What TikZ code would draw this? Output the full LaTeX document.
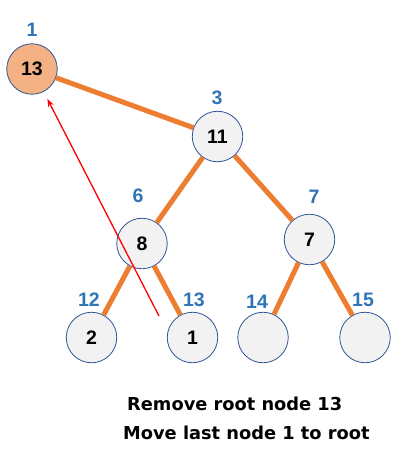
\documentclass[tikz,border=0pt]{standalone}
\usepackage{fontspec}
\setmainfont{Liberation Sans}
\newfontfamily\captionfont{DejaVu Sans}
\usetikzlibrary{arrows.meta, positioning}

\definecolor{edgeorange}{RGB}{237,125,49}
\definecolor{rootfill}{RGB}{244,177,131}
\definecolor{nodegray}{RGB}{242,242,242}
\definecolor{nodeborder}{RGB}{47,85,151}
\definecolor{idxblue}{RGB}{46,117,182}

\begin{document}
\begin{tikzpicture}[x=1pt, y=-1pt, >=Stealth, font=\bfseries\fontsize{19.5}{22}\selectfont,
    heapnode/.style={circle, draw=nodeborder, line width=0.8pt, fill=nodegray, minimum size=50.5pt, inner sep=0pt},
    idx/.style={text=idxblue, inner sep=0pt},
    heapedge/.style={draw=edgeorange, line width=5pt}]
        \useasboundingbox (0,0) rectangle (406,463);

        % Nodes
        \node (root) [heapnode, fill=rootfill] at (32,69) {13};
        \node (n3) [heapnode] at (217.5,136.5) {11};
        \node (n6) [heapnode] at (142,243.5) {8};
        \node (n7) [heapnode] at (309.5,239.5) {7};
        \node (n12) [heapnode] at (91.5,337.5) {2};
        \node (n13) [heapnode] at (192.5,337.5) {1};
        \node (n14) [heapnode] at (263,337.5) {};
        \node (n15) [heapnode] at (365,337.5) {};

        % Index labels
        \node (i1) [idx] at (32,30) {1};
        \node (i3) [idx] at (217,98) {3};
        \node (i6) [idx] at (138,196) {6};
        \node (i7) [idx] at (314,197) {7};
        \node (i12) [idx] at (89,300) {12};
        \node (i13) [idx] at (194,300) {13};
        \node (i14) [idx] at (257,302) {14};
        \node (i15) [idx] at (363,300) {15};

        % Edges
        \draw[heapedge] (root) -- (n3);
        \draw[heapedge] (n3) -- (n6);
        \draw[heapedge] (n3) -- (n7);
        \draw[heapedge] (n6) -- (n12);
        \draw[heapedge] (n6) -- (n13);
        \draw[heapedge] (n7) -- (n14);
        \draw[heapedge] (n7) -- (n15);

        % Move last node to root
        \coordinate (movestart) at (159,316);
        \draw[-{Stealth[length=8pt, width=6pt]}, red, line width=1.3pt, shorten >=8pt] (movestart) -- (root);

        % Caption
        \node (cap1) [anchor=west, inner sep=0pt, font=\captionfont\bfseries\fontsize{17.8}{20}\selectfont] at (127,404) {Remove root node 13};
        \node (cap2) [anchor=west, inner sep=0pt, font=\captionfont\bfseries\fontsize{17.8}{20}\selectfont] at (123,433) {Move last node 1 to root};
    \end{tikzpicture}
\end{document}
